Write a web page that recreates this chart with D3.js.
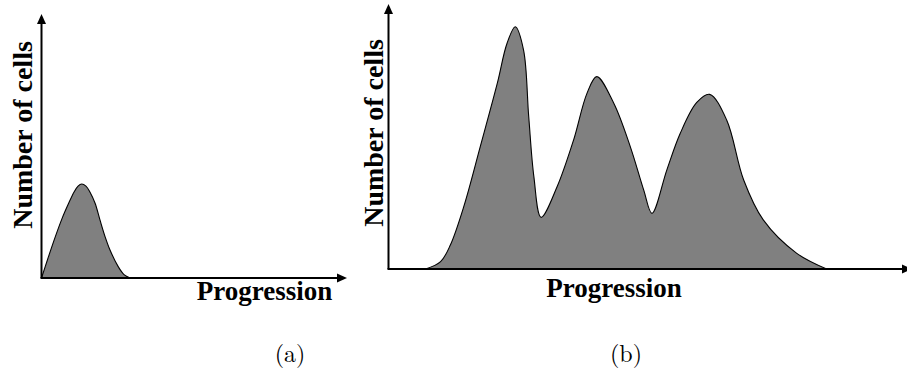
<!DOCTYPE html>
<html>
<head>
<meta charset="utf-8">
<script src="https://cdn.jsdelivr.net/npm/d3@7"></script>
<style>
  body { margin: 0; background: #fff; }
  svg { display: block; }
  .axis-line { stroke: #000; stroke-width: 2; }
  .label { font-family: 'Liberation Serif', 'Times New Roman', serif; font-weight: bold; fill: #000; }
  .caption { font-family: 'Latin Modern Roman', 'Liberation Serif', serif; font-size: 24px; fill: #000; }
</style>
</head>
<body>
<svg id="chart" width="907" height="377"></svg>
<script>
// panel (a): one early peak
const progressionA = [0, 2.1, 4.4, 6.7, 8.8, 10.7, 12.0, 13.2, 14.6, 15.9, 17.6, 19.2, 20.9, 22.5, 25.2, 27.1, 29.1];
const cellsA       = [0, 7.4, 15.2, 22.4, 28.0, 32.6, 34.8, 35.6, 34.8, 32.6, 28.3, 22.0, 15.6, 10.6, 4.3, 1.3, 0];

// panel (b): three peaks
const progressionB = [7.2, 10.1, 12.0, 14.6, 17.8, 21.1, 23.0, 24.6, 26.2, 27.2, 28.2, 29.6,
                      32.7, 35.9, 38.5, 40.4, 43.7, 46.9, 49.5, 51.1,
                      54.0, 56.6, 59.8, 62.3, 65.6, 68.9, 72.7, 79.2, 85.0];
const cellsB       = [0, 2.8, 9.2, 23.9, 46.9, 71.1, 86.5, 92.8, 83.9, 58.4, 35.4, 19.8,
                      31.5, 49.4, 67.3, 73.7, 63.5, 46.9, 30.3, 21.3,
                      38.0, 52.0, 63.8, 66.9, 57.1, 34.1, 18.8, 6.0, 0];

const xLabel = 'Progression';
const yLabel = 'Number of cells';
const captions = ['(a)', '(b)'];

const svg = d3.select('#chart');

function arrowHead(g, x, y, dir) {
    // dir: 'up' or 'right'
    var pts = dir === 'up'
        ? [[x, y], [x - 4.5, y + 10], [x + 4.5, y + 10]]
        : [[x, y], [x - 10, y - 4.5], [x - 10, y + 4.5]];
    g.append('path')
     .attr('d', d3.line()(pts) + 'Z')
     .attr('fill', '#000');
}

function drawPanel(opts) {
    var g = svg.append('g');

    var x = d3.scaleLinear().domain([0, 100]).range(opts.xRange);
    var y = d3.scaleLinear().domain([0, 100]).range(opts.yRange);

    var data = opts.px.map((p, i) => [p, opts.cy[i]]);
    var curve = d3.curveCatmullRom.alpha(0.5);

    var area = d3.area()
                 .x(d => x(d[0]))
                 .y0(y(0))
                 .y1(d => Math.min(y(0), y(d[1])))
                 .curve(curve);

    var line = d3.line()
                 .x(d => x(d[0]))
                 .y(d => y(d[1]))
                 .curve(curve);

    g.append('path')
     .attr('d', area(data))
     .attr('fill', '#808080');
    g.append('path')
     .attr('d', line(data))
     .attr('fill', 'none')
     .attr('stroke', '#000')
     .attr('stroke-width', 1.1);

    // axes with arrows
    g.append('line')
     .attr('class', 'axis-line')
     .attr('x1', x(0)).attr('y1', y(0))
     .attr('x2', x(0)).attr('y2', opts.yTip + 8);
    arrowHead(g, x(0), opts.yTip, 'up');

    g.append('line')
     .attr('class', 'axis-line')
     .attr('x1', x(0) - 1).attr('y1', y(0))
     .attr('x2', opts.xTip - 8).attr('y2', y(0));
    arrowHead(g, opts.xTip, y(0), 'right');

    // axis labels
    g.append('text')
     .attr('class', 'label')
     .attr('x', opts.xLabelPos[0])
     .attr('y', opts.xLabelPos[1])
     .style('font-size', '27px')
     .style('text-anchor', 'middle')
     .text(xLabel);

    g.append('text')
     .attr('class', 'label')
     .attr('transform', `translate(${opts.yLabelPos[0]}, ${opts.yLabelPos[1]}) rotate(-90)`)
     .style('font-size', '28px')
     .style('text-anchor', 'middle')
     .text(yLabel);

    // caption under the panel
    svg.append('text')
       .attr('class', 'caption')
       .attr('x', opts.captionPos[0])
       .attr('y', opts.captionPos[1])
       .style('text-anchor', 'middle')
       .text(opts.caption);
}

drawPanel({
    px: progressionA, cy: cellsA,
    xRange: [41.5, 346], yRange: [278, 14],
    yTip: 14, xTip: 347,
    xLabelPos: [264.5, 300],
    yLabelPos: [32, 135],
    captionPos: [290, 362],
    caption: captions[0]
});

drawPanel({
    px: progressionB, cy: cellsB,
    xRange: [388.5, 904], yRange: [269, 8],
    yTip: 4, xTip: 912,
    xLabelPos: [614, 297],
    yLabelPos: [383, 133],
    captionPos: [626, 362],
    caption: captions[1]
});
</script>
</body>
</html>
